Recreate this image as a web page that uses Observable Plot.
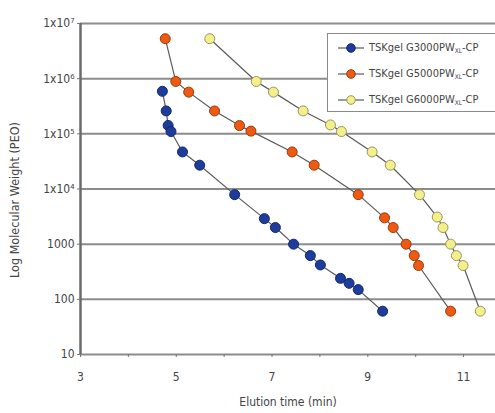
<!DOCTYPE html>
<html>
<head>
<meta charset="utf-8">
<script src="https://cdn.jsdelivr.net/npm/d3@7"></script>
<script src="https://cdn.jsdelivr.net/npm/@observablehq/plot@0.6"></script>
<style>
  html, body { margin: 0; padding: 0; background: #fff; }
  #wrap { position: relative; width: 495px; height: 413px; overflow: hidden;
    font-family: "Liberation Sans Narrow", "DejaVu Sans Condensed", "Liberation Sans", Arial, sans-serif; }
  #legend { position: absolute; left: 327px; top: 33px; width: 180px; height: 79px;
    background: #fff; border: 1.5px solid #8a8a8a; box-sizing: border-box; }
  .entry { position: absolute; left: 0; height: 14px; display: flex; align-items: center;
    font-size: 11px; color: #444; white-space: nowrap; }
  .entry svg { margin-left: 10px; margin-right: 5px; }
  .entry sub { font-size: 6.5px; vertical-align: -2px; }
</style>
</head>
<body>
<div id="wrap"></div>
<script>
// ---- data ----
const seriesNames = ["TSKgel G3000PW", "TSKgel G5000PW", "TSKgel G6000PW"];
const fills = ["#1d3c9c", "#ef5a12", "#f3ef8a"];
const strokes = ["#13286a", "#9a3a0c", "#9a9660"];

const t3000 = [4.71, 4.79, 4.83, 4.89, 5.13, 5.49, 6.22, 6.84, 7.07, 7.45, 7.80, 8.01, 8.43, 8.61, 8.80, 9.31];
const mw3000 = [5.9e5, 2.6e5, 1.42e5, 1.1e5, 4.7e4, 2.7e4, 7.9e3, 2.9e3, 2.0e3, 1.0e3, 620, 420, 240, 195, 150, 61];

const t5000 = [4.77, 4.99, 5.26, 5.80, 6.32, 6.56, 7.42, 7.88, 8.80, 9.35, 9.53, 9.80, 9.97, 10.06, 10.73];
const mw5000 = [5.3e6, 8.9e5, 5.7e5, 2.6e5, 1.41e5, 1.12e5, 4.7e4, 2.7e4, 7.9e3, 3.0e3, 2.0e3, 1.0e3, 620, 410, 61];

const t6000 = [5.70, 6.67, 7.03, 7.65, 8.22, 8.45, 9.09, 9.47, 10.08, 10.45, 10.57, 10.73, 10.85, 10.99, 11.35];
const mw6000 = [5.3e6, 8.9e5, 5.7e5, 2.6e5, 1.45e5, 1.1e5, 4.7e4, 2.7e4, 7.9e3, 3.1e3, 2.0e3, 1.0e3, 620, 410, 61];

const xTicks = [3, 4, 5, 6, 7, 8, 9, 10, 11];
const xLabels = ["3", "", "5", "", "7", "", "9", "", "11"];
const yTicks = [10, 100, 1000, 1e4, 1e5, 1e6, 1e7];
const yLabels = ["10", "100", "1000", "1x10\u2074", "1x10\u2075", "1x10\u2076", "1x10\u2077"];
const gridVals = [100, 1000, 1e4, 1e5, 1e6, 1e7];
const xTitle = "Elution time (min)";
const yTitle = "Log Molecular Weight (PEO)";

const mk = (ts, ms, s) => ts.map((t, i) => ({time: t, mw: ms[i], series: s}));
const d3000 = mk(t3000, mw3000, seriesNames[0]);
const d5000 = mk(t5000, mw5000, seriesNames[1]);
const d6000 = mk(t6000, mw6000, seriesNames[2]);
const all = [...d3000, ...d5000, ...d6000];

const font = '"Liberation Sans Narrow", "DejaVu Sans Condensed", "Liberation Sans", Arial, sans-serif';

const chart = Plot.plot({
  width: 495, height: 413,
  marginLeft: 80, marginRight: 0, marginTop: 23, marginBottom: 59,
  style: {fontFamily: font, fontSize: "12px", color: "#444", background: "#fff"},
  x: {domain: [3, 11.667]},
  y: {type: "log", domain: [10, 1e7]},
  marks: [
    Plot.gridY(gridVals, {stroke: "#8c8c8c", strokeWidth: 2, strokeOpacity: 1}),
    Plot.ruleY([10], {stroke: "#8c8c8c", strokeWidth: 2}),
    Plot.ruleX([3], {stroke: "#6a6a6a", strokeWidth: 2.5}),
    Plot.axisX({ticks: xTicks, tickFormat: (d) => xLabels[xTicks.indexOf(d)], tickSize: 3, tickPadding: 15,
      stroke: "#777", fill: "#444", fontSize: 12,
      label: xTitle, labelAnchor: "center", labelArrow: "none", labelOffset: 51}),
    Plot.axisY({ticks: yTicks, tickFormat: (d) => yLabels[yTicks.indexOf(d)], tickSize: 3, tickPadding: 3,
      stroke: "#777", fill: "#444", fontSize: 12, label: null}),
    Plot.text([yTitle], {frameAnchor: "left", rotate: -90, dx: -66, dy: 11, fill: "#444",
      fontSize: 12.5, textAnchor: "middle"}),
    Plot.line(all, {x: "time", y: "mw", z: "series", stroke: "#5a5a5a", strokeWidth: 1.2}),
    Plot.dot(d3000, {x: "time", y: "mw", r: 5, fill: fills[0], stroke: strokes[0], strokeWidth: 1}),
    Plot.dot(d5000, {x: "time", y: "mw", r: 5, fill: fills[1], stroke: strokes[1], strokeWidth: 1}),
    Plot.dot(d6000, {x: "time", y: "mw", r: 5, fill: fills[2], stroke: strokes[2], strokeWidth: 1})
  ]
});

const wrap = document.getElementById("wrap");
wrap.appendChild(chart);

// legend (HTML overlay)
const legend = document.createElement("div");
legend.id = "legend";
const tops = [7, 33, 59];
seriesNames.forEach((name, i) => {
  const e = document.createElement("div");
  e.className = "entry";
  e.style.top = tops[i] + "px";
  e.innerHTML = `<svg width="26" height="12"><line x1="0" y1="6" x2="26" y2="6" stroke="#5a5a5a" stroke-width="1.2"/>` +
    `<circle cx="13" cy="6" r="4.3" fill="${fills[i]}" stroke="${strokes[i]}" stroke-width="1"/></svg>` +
    `<span>${name}<sub>XL</sub>-CP</span>`;
  legend.appendChild(e);
});
wrap.appendChild(legend);
</script>
</body>
</html>
